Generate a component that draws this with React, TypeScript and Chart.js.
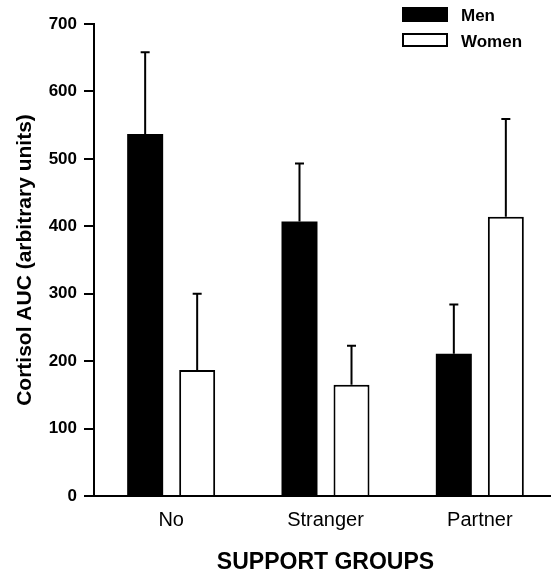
import React, { useEffect, useRef } from "react";
import { Chart, registerables } from "chart.js";

Chart.register(...registerables);

const categories = ["No", "Stranger", "Partner"];
const seriesNames = ["Men", "Women"];
const menValues = [537, 407, 211];
const menErrors = [121, 86, 73];
const womenValues = [187, 165, 414];
const womenErrors = [113, 58, 145];
const yTicks = [0, 100, 200, 300, 400, 500, 600, 700];

const FONT = 'Arial, "Liberation Sans", sans-serif';

const errorBarPlugin = {
  id: "errorBars",
  afterDatasetsDraw(chart: any) {
    const ctx = chart.ctx;
    const yScale = chart.scales.y;
    const errs = [menErrors, womenErrors];
    const vals = [menValues, womenValues];
    ctx.save();
    ctx.strokeStyle = "#000";
    ctx.lineWidth = 2;
    chart.data.datasets.forEach((_: any, i: number) => {
      const meta = chart.getDatasetMeta(i);
      meta.data.forEach((bar: any, j: number) => {
        const x = bar.x;
        const yTop = bar.y;
        const yErr = yScale.getPixelForValue(vals[i][j] + errs[i][j]);
        ctx.beginPath();
        ctx.moveTo(x, yTop);
        ctx.lineTo(x, yErr);
        ctx.moveTo(x - 4.5, yErr);
        ctx.lineTo(x + 4.5, yErr);
        ctx.stroke();
      });
    });
    ctx.restore();
  },
};

const legendPlugin = {
  id: "customLegend",
  afterDraw(chart: any) {
    const ctx = chart.ctx;
    ctx.save();
    ctx.fillStyle = "#000";
    ctx.fillRect(402, 7, 46, 15);
    ctx.lineWidth = 2;
    ctx.strokeStyle = "#000";
    ctx.fillStyle = "#fff";
    ctx.fillRect(403, 34, 44, 12);
    ctx.strokeRect(403, 34, 44, 12);
    ctx.fillStyle = "#000";
    ctx.font = `bold 17px ${FONT}`;
    ctx.textAlign = "left";
    ctx.textBaseline = "middle";
    ctx.fillText(chart.data.datasets[0].label, 461, 16);
    ctx.fillText(chart.data.datasets[1].label, 461, 42);
    ctx.restore();
  },
};

export default function App() {
  const ref = useRef<HTMLCanvasElement | null>(null);
  useEffect(() => {
    document.body.style.margin = "0";
    if (!ref.current) return;
    const chart = new Chart(ref.current, {
      type: "bar",
      data: {
        labels: categories,
        datasets: [
          {
            label: seriesNames[0],
            data: menValues,
            backgroundColor: "#000",
            borderWidth: 0,
            categoryPercentage: 0.674,
            barPercentage: 0.692,
          },
          {
            label: seriesNames[1],
            data: womenValues,
            backgroundColor: "#fff",
            borderColor: "#000",
            borderWidth: 2,
            categoryPercentage: 0.674,
            barPercentage: 0.692,
          },
        ],
      },
      options: {
        responsive: false,
        animation: false,
        devicePixelRatio: 1,
        layout: { padding: { top: 24, right: 3, left: 0, bottom: 0 } },
        plugins: {
          legend: { display: false },
          tooltip: { enabled: false },
        },
        scales: {
          x: {
            type: "category",
            grid: { display: false, drawTicks: false, tickLength: 0 },
            border: { display: true, color: "#000", width: 2 },
            ticks: {
              color: "#000",
              padding: 12,
              font: { family: FONT, size: 20, weight: "normal" },
            },
            title: {
              display: true,
              text: "SUPPORT GROUPS",
              color: "#000",
              font: { family: FONT, size: 23, weight: "bold", lineHeight: 0.8 },
              padding: { top: 0, bottom: 0 },
            },
            afterFit(scale: any) {
              scale.height = 76;
            },
          },
          y: {
            min: 0,
            max: 700,
            afterBuildTicks(scale: any) {
              scale.ticks = yTicks.map((v) => ({ value: v }));
            },
            grid: {
              drawOnChartArea: false,
              drawTicks: true,
              tickLength: 10,
              color: "#000",
              lineWidth: 2,
            },
            border: { display: true, color: "#000", width: 2 },
            ticks: {
              color: "#000",
              padding: 7,
              font: { family: FONT, size: 17, weight: "bold" },
            },
            title: {
              display: true,
              text: "Cortisol AUC (arbitrary units)",
              color: "#000",
              font: { family: FONT, size: 21, weight: "bold" },
              padding: { top: 13, bottom: 0 },
            },
            afterFit(scale: any) {
              scale.width = 94;
            },
          },
        },
      },
      plugins: [errorBarPlugin, legendPlugin],
    } as any);
    return () => chart.destroy();
  }, []);
  return (
    <div
      style={{
        position: "fixed",
        left: 0,
        top: 0,
        width: 551,
        height: 572,
        overflow: "hidden",
        background: "#fff",
      }}
    >
      <canvas ref={ref} width={560} height={572} style={{ display: "block" }} />
    </div>
  );
}
